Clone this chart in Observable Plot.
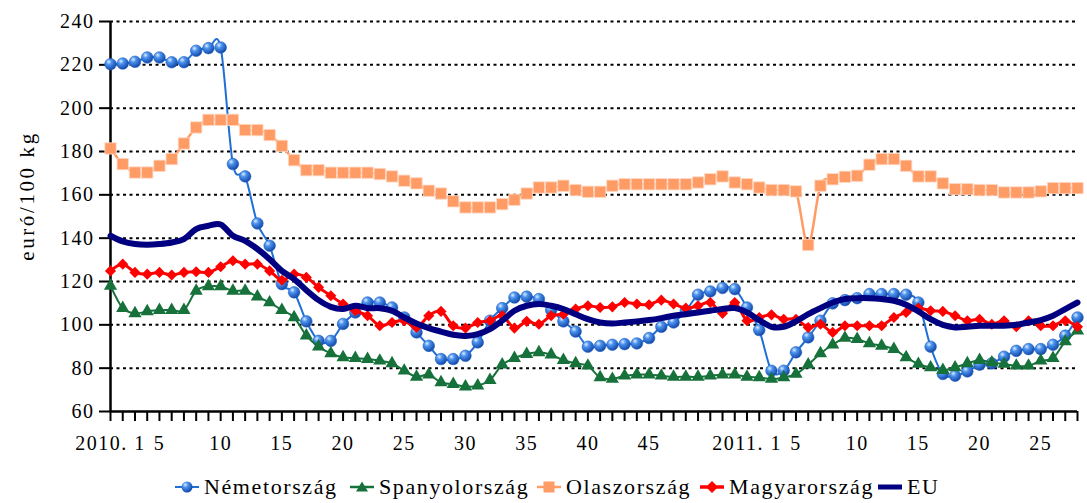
<!DOCTYPE html>
<html><head><meta charset="utf-8">
<script src="https://cdn.jsdelivr.net/npm/d3@7"></script>
<script src="https://cdn.jsdelivr.net/npm/@observablehq/plot@0.6"></script>
<style>
body{margin:0;background:#fff;font-family:'Liberation Serif',serif;}
#wrap{position:relative;width:1087px;height:503px;}
.lg{position:absolute;top:474px;display:flex;align-items:center;font-family:'Liberation Serif',serif;font-size:22px;letter-spacing:1.6px;color:#000;white-space:nowrap;}
.lg svg{margin-right:5px;}
</style></head><body>
<div id="wrap"><div id="chart"></div><div id="legend"></div></div>
<script>
// weeks: 2010 w1..w52, 2011 w1..w28  (index 0..79)
const tickIndex = [0,4,9,14,19,24,29,34,39,44,52,56,61,66,71,76];
const tickText  = ["2010. 1","5","10","15","20","25","30","35","40","45","2011. 1","5","10","15","20","25"];
const yTicks = [60,80,100,120,140,160,180,200,220,240];
const gridValues = [80,100,120,140,160,180,200,220,240];

const seriesNames = ["Németország","Spanyolország","Olaszország","Magyarország","EU"];

const germany = [220.3,220.6,221.4,223.4,223.4,221.2,221.2,226.5,227.7,228,174.2,168.5,146.8,136.5,118.8,115,101.6,92.6,92.6,100.4,105.7,110.3,110.3,108,103.4,96.5,90.3,84.2,84.2,85.7,91.9,101.9,107.7,112.6,113,111.9,106.8,101.6,96.9,89.9,90.3,90.8,91.1,91.4,93.9,99.1,101.1,106.5,113.9,115.4,117,116.5,
 108,97.6,78.8,78.8,87.3,94.2,101.9,109.9,111.4,112.3,114.2,114.2,114.2,113.9,110.3,89.9,77.3,76.5,78.5,81.6,82.2,85.3,88,88.8,88.8,90.8,95,103.4];
const spain = [118,107.7,105.3,106.2,106.8,106.8,106.8,115.7,117.7,117.7,115.7,115.7,113,110.3,106.8,103.4,95,89.9,86.8,85,84.6,84.2,83.4,82.2,78.8,76,77,73.4,72.6,71.5,71.9,74.5,81.6,84.6,86.5,87.3,86.2,83.7,82.2,81.1,75.7,75,76.5,77,77,76.5,76,76,76,76.5,77,77,
 76,75.7,75,75.7,77.3,81.6,86.8,90.8,93.9,93.4,91.4,90.3,88.8,85,81.9,80.3,79.1,80.3,82.2,83.7,82.6,81.9,81.1,81.1,83.4,84.6,92.3,97.3];
const italy = [181.4,174.2,170.3,170.3,173.4,176.5,183.7,191.1,194.6,194.6,194.6,189.9,189.9,187.6,182.6,176,171.4,171.4,170.2,170.2,170.2,170.2,169.6,168.5,166.5,165.3,161.9,160.6,157,154.2,154.2,154.2,155.7,157.7,160.6,163.4,163.4,164.2,162.2,161.4,161.4,164.2,164.9,164.9,164.9,164.9,164.9,164.9,165.7,167.2,168.5,165.7,
 164.9,163.4,162.2,162.2,161.6,136.9,164.2,167.2,168.3,168.8,173.9,176.5,176.5,173.4,168.5,168.5,165.3,162.6,162.6,162.2,162.2,161.1,161.1,161.1,161.6,163.1,163.1,163.1];
const hungary = [124.9,128,124.2,123.4,124.2,123,124.2,124.5,124.2,126.8,129.6,128,128,124.9,120.6,123.4,121.9,117.3,113.4,109.6,106.5,104.2,99.6,101.1,101.9,98.8,104.2,106.2,99.6,98.5,101.1,101.9,104.2,98.5,101.6,100.3,104.2,104.9,107.3,108.8,108,108.3,110.3,109.6,109.3,111.4,109.6,107.7,108.8,110.3,105.3,110.3,
 101.9,103.4,104.6,102.6,102.6,98.8,100.3,96.5,99.6,99.6,99.6,99.6,103.4,105.7,107.7,106.5,106.2,104.2,101.9,102.6,100.3,101.9,99.1,101.9,99.6,99.6,101.9,99.1];
const eu = [141.1,138.5,137.3,137,137.3,138,139.6,144.2,145.7,146.3,141.1,138.8,135,130.3,124.9,121.1,116,111.4,108.3,107.3,108.8,107.7,107.7,106.5,103.4,100.6,98.5,96.9,95.4,94.9,95.7,98,101.9,106.5,108.8,109.6,108.8,107.3,104.9,102.6,101.1,100.6,101.1,101.6,102.2,103.1,104.2,104.9,105.7,106.5,107.3,107.7,
 105.7,102.2,99.1,99.1,101.6,104.9,107.7,110.3,111.9,112.3,112.3,111.9,111.1,109.3,106.2,102.6,100,98.8,99.1,99.6,99.6,99.6,100,101.1,102.2,104.2,107.3,110.3];

const colors = {"Németország":"#1f6fd6","Spanyolország":"#16713a","Olaszország":"#ff9c66","Magyarország":"#ff0000","EU":"#000080"};

const toRows = (arr) => arr.map((v, i) => ({i, v}));
const G = toRows(germany), S = toRows(spain), I = toRows(italy), H = toRows(hungary), E = toRows(eu);
const allIdx = d3.range(germany.length);
const fmt = (d) => { const k = tickIndex.indexOf(d); return k >= 0 ? tickText[k] : ""; };
const FONT = "'Liberation Serif', serif";

const plot = Plot.plot({
  width: 1087, height: 465,
  marginLeft: 110, marginRight: 10, marginTop: 21, marginBottom: 54,
  x: {domain: [0, 79]},
  y: {domain: [60, 240]},
  style: {fontFamily: FONT, fontSize: "20px", color: "black", background: "white", overflow: "visible"},
  marks: [
    Plot.ruleY(gridValues, {stroke: "black", strokeWidth: 2, strokeDasharray: "3,3.5"}),
    Plot.axisY({ticks: yTicks, tickSize: 11, tickPadding: 5, strokeWidth: 2, stroke: "black", label: null, fontSize: 20}),
    Plot.axisX({ticks: allIdx, tickSize: 10, tickPadding: 14, strokeWidth: 2, stroke: "black", tickFormat: fmt, label: null, fontSize: 20}),
    Plot.ruleY([60], {stroke: "black", strokeWidth: 2.5}),
    Plot.ruleX([0], {stroke: "black", strokeWidth: 2.5}),
    Plot.lineY(G, {x: "i", y: "v", stroke: colors["Németország"], strokeWidth: 2, curve: "cardinal", tension: 0}),
    Plot.dot(G, {x: "i", y: "v", r: 5.8, fill: "url(#sphere)", stroke: "#1c5fc4", strokeWidth: 0.6}),
    Plot.lineY(S, {x: "i", y: "v", stroke: colors["Spanyolország"], strokeWidth: 2, curve: "cardinal", tension: 0}),
    Plot.dot(S, {x: "i", y: "v", r: 4.9, symbol: "triangle", fill: colors["Spanyolország"], stroke: "none"}),
    Plot.lineY(I, {x: "i", y: "v", stroke: colors["Olaszország"], strokeWidth: 2.5, curve: "cardinal", tension: 0}),
    Plot.dot(I, {x: "i", y: "v", r: 6.4, symbol: "square", fill: colors["Olaszország"], stroke: "#ffd8c4", strokeWidth: 0.8}),
    Plot.lineY(H, {x: "i", y: "v", stroke: colors["Magyarország"], strokeWidth: 3, curve: "cardinal", tension: 0}),
    Plot.dot(H, {x: "i", y: "v", r: 5, symbol: "diamond2", fill: colors["Magyarország"], stroke: "none"}),
    Plot.lineY(E, {x: "i", y: "v", stroke: colors["EU"], strokeWidth: 6, curve: "cardinal", tension: 0})
  ]
});

const svg = d3.select(plot);
const defs = svg.insert("defs", ":first-child");
const grad = defs.append("radialGradient").attr("id", "sphere").attr("cx", "35%").attr("cy", "30%").attr("r", "70%");
grad.append("stop").attr("offset", "0%").attr("stop-color", "#dcecff");
grad.append("stop").attr("offset", "35%").attr("stop-color", "#4a92ee");
grad.append("stop").attr("offset", "100%").attr("stop-color", "#1548a8");
svg.append("text").attr("transform", "translate(34,196) rotate(-90)")
  .attr("text-anchor", "middle").attr("font-size", 21).attr("letter-spacing", "2.6px").attr("fill", "black")
  .text("euró/100 kg");
svg.selectAll("text").style("font-family", FONT).style("letter-spacing", function() { return this.getAttribute("letter-spacing") || "1.5px"; });
document.getElementById("chart").appendChild(plot);

// legend
const legendLeft = [175, 350, 537, 700, 878];
const legendMarker = {
  "Németország": `<line x1="0" y1="7" x2="24" y2="7" stroke="#1f6fd6" stroke-width="2"/><circle cx="12" cy="7" r="5.5" fill="url(#sphere2)"/>`,
  "Spanyolország": `<line x1="0" y1="7" x2="24" y2="7" stroke="#16713a" stroke-width="2.5"/><path d="M12,1.5 L18,11.5 L6,11.5 Z" fill="#16713a"/>`,
  "Olaszország": `<line x1="0" y1="7" x2="24" y2="7" stroke="#ff9c66" stroke-width="2.5"/><rect x="6.5" y="1.5" width="11" height="11" fill="#ff9c66"/>`,
  "Magyarország": `<line x1="0" y1="7" x2="24" y2="7" stroke="#ff0000" stroke-width="3.5"/><path d="M12,1 L18,7 L12,13 L6,7 Z" fill="#ff0000"/>`,
  "EU": `<line x1="0" y1="7" x2="24" y2="7" stroke="#000080" stroke-width="5"/>`
};
const lg = document.getElementById("legend");
seriesNames.forEach((name, k) => {
  const div = document.createElement("div");
  div.className = "lg";
  div.style.left = legendLeft[k] + "px";
  div.innerHTML = `<svg width="24" height="14" viewBox="0 0 24 14"><defs><radialGradient id="sphere2" cx="35%" cy="30%" r="70%"><stop offset="0%" stop-color="#dcecff"/><stop offset="35%" stop-color="#4a92ee"/><stop offset="100%" stop-color="#1548a8"/></radialGradient></defs>${legendMarker[name]}</svg><span>${name}</span>`;
  lg.appendChild(div);
});
</script>
</body></html>
